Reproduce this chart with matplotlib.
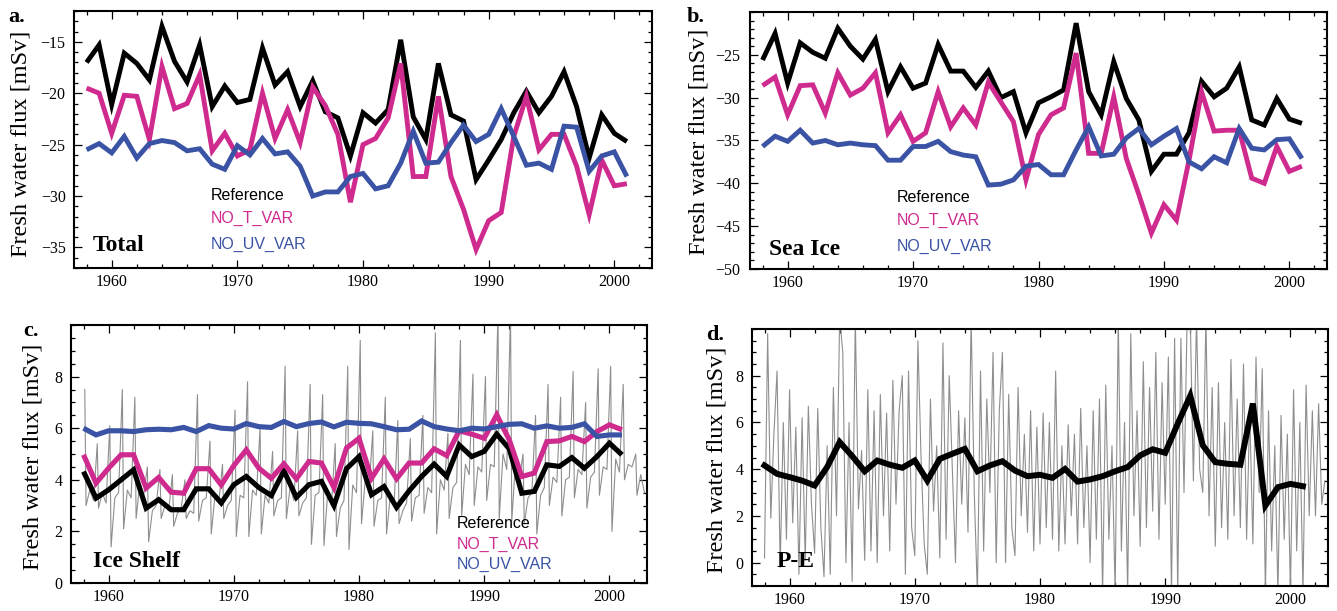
import numpy as np
import matplotlib
matplotlib.use("Agg")
import matplotlib.pyplot as plt
from matplotlib.ticker import MultipleLocator

# ---------------- data ----------------
years = np.arange(1958, 2002)

a_ref = [-17.0, -15.3, -21.1, -16.1, -17.1, -18.7, -13.5, -16.9, -18.9, -15.3,
         -21.3, -19.3, -20.9, -20.6, -15.6, -19.2, -17.9, -21.3, -18.8, -21.8,
         -22.4, -26.1, -21.9, -22.9, -21.6, -14.8, -22.3, -24.5, -17.1, -22.1,
         -22.7, -28.4, -26.5, -24.5, -21.9, -19.8, -21.9, -20.3, -17.9, -21.3,
         -26.3, -22.1, -23.9, -24.7]
a_not = [-19.5, -20.0, -23.9, -20.2, -20.3, -24.5, -17.4, -21.5, -21.0, -18.2,
         -25.6, -23.9, -26.1, -25.5, -20.0, -24.4, -21.6, -24.8, -19.4, -21.2,
         -24.0, -30.6, -25.0, -24.4, -22.4, -17.1, -28.1, -28.1, -20.3, -28.1,
         -31.3, -35.2, -32.4, -31.6, -24.2, -20.3, -25.5, -24.0, -24.0, -27.1,
         -31.8, -26.5, -29.0, -28.8]
a_nouv = [-25.5, -24.9, -25.8, -24.2, -26.3, -24.9, -24.6, -24.8, -25.6, -25.4,
          -26.9, -27.4, -25.1, -26.0, -24.4, -25.9, -25.7, -27.1, -30.0, -29.6,
          -29.6, -28.1, -27.8, -29.3, -29.0, -26.8, -23.7, -26.8, -26.7, -24.8,
          -23.1, -24.7, -24.0, -21.5, -24.2, -27.0, -26.8, -27.4, -23.2, -23.3,
          -27.6, -26.1, -25.7, -28.1]

b_ref = [-25.6, -22.5, -28.3, -23.6, -24.7, -25.4, -21.9, -24.0, -25.5, -23.2,
         -29.3, -26.4, -28.9, -28.3, -23.8, -26.9, -26.9, -28.8, -26.9, -30.0,
         -29.3, -34.1, -30.6, -29.9, -29.1, -21.3, -29.3, -32.0, -25.8, -30.1,
         -32.6, -38.6, -36.6, -36.6, -34.1, -28.1, -29.9, -28.9, -26.4, -32.6,
         -33.2, -30.1, -32.5, -33.0]
b_not = [-28.6, -27.6, -32.0, -28.6, -28.5, -31.8, -27.1, -29.7, -28.9, -27.1,
         -34.1, -32.0, -35.1, -34.1, -29.3, -33.4, -31.2, -33.2, -28.2, -30.5,
         -32.8, -39.6, -34.3, -32.0, -31.2, -24.8, -36.5, -36.5, -29.9, -37.1,
         -41.3, -45.8, -42.5, -44.3, -37.3, -29.3, -33.9, -33.8, -33.8, -39.4,
         -40.0, -35.7, -38.6, -38.0]
b_nouv = [-35.7, -34.5, -35.1, -33.8, -35.3, -35.0, -35.5, -35.3, -35.5, -35.6,
          -37.3, -37.3, -35.7, -35.7, -35.1, -36.3, -36.7, -36.9, -40.2, -40.1,
          -39.6, -38.0, -37.8, -39.0, -39.0, -36.1, -33.4, -36.8, -36.6, -34.7,
          -33.6, -35.5, -34.5, -33.6, -37.5, -38.3, -36.9, -37.6, -33.6, -35.9,
          -36.1, -34.9, -34.8, -37.1]

c_ref = [4.32, 3.29, 3.61, 4.0, 4.39, 2.9, 3.23, 2.84, 2.84, 3.65,
         3.65, 3.1, 3.81, 4.13, 3.7, 3.39, 4.35, 3.32, 3.81, 3.94,
         3.0, 4.43, 4.9, 3.42, 3.74, 2.93, 3.57, 4.13, 4.61, 4.13,
         5.35, 4.9, 5.1, 5.77, 5.2, 3.48, 3.55, 4.58, 4.52, 4.86,
         4.45, 4.9, 5.42, 4.97]
c_not = [4.97, 3.87, 4.45, 4.97, 4.97, 3.68, 4.09, 3.52, 3.48, 4.43,
         4.43, 3.8, 4.55, 5.16, 4.45, 4.06, 4.62, 4.04, 4.71, 4.65,
         3.7, 5.23, 5.61, 4.06, 4.81, 4.04, 4.65, 4.65, 5.2, 4.94,
         5.9, 5.77, 5.61, 6.52, 5.55, 4.13, 4.26, 5.48, 5.51, 5.68,
         5.48, 5.87, 6.13, 5.94]
c_nouv = [6.0, 5.74, 5.9, 5.9, 5.87, 5.94, 5.96, 5.94, 6.03, 5.87,
          6.1, 6.0, 5.97, 6.18, 6.06, 6.03, 6.26, 6.06, 6.18, 6.24,
          6.05, 6.23, 6.19, 6.17, 6.06, 5.94, 5.96, 6.28, 6.06, 5.97,
          5.9, 6.0, 5.97, 6.06, 6.15, 6.17, 6.0, 6.09, 6.0, 6.03,
          6.17, 5.68, 5.74, 5.74]

# monthly-like Ice Shelf reference (1958-2002): yearly spike, trough and plateau values
c_gray_years = np.arange(1958, 2003)
c_gray_peak = [7.5, 5.4, 6.1, 7.5, 7.2, 4.5, 4.4, 4.2, 4.0, 7.3,
               5.5, 4.6, 6.7, 7.8, 6.0, 5.1, 8.4, 5.9, 7.7, 7.3,
               5.4, 8.4, 9.4, 5.9, 7.2, 6.3, 5.6, 6.5, 9.7, 5.8,
               9.4, 8.1, 8.0, 10.5, 10.5, 5.0, 6.5, 7.7, 7.2, 8.2,
               7.0, 8.3, 8.4, 7.7, 5.0]
c_gray_low = [3.0, 2.9, 1.4, 2.1, 2.5, 1.6, 2.5, 2.2, 2.5, 2.4,
              1.9, 2.5, 1.8, 1.8, 1.9, 2.6, 2.5, 2.6, 1.5, 1.45,
              1.8, 1.3, 2.3, 2.2, 1.9, 2.3, 2.4, 2.7, 1.9, 2.5,
              2.6, 3.0, 3.2, 2.5, 2.4, 2.3, 1.9, 3.0, 2.6, 3.3,
              2.9, 3.4, 2.0, 4.0, 3.4]
c_gray_mid_a = [3.6, 3.5, 3.3, 3.6, 3.9, 2.8, 3.0, 2.7, 2.8, 3.2,
                3.4, 3.0, 3.4, 3.6, 3.4, 3.2, 3.7, 3.1, 3.4, 3.5,
                2.9, 3.8, 4.0, 3.2, 3.4, 2.8, 3.3, 3.7, 4.0, 3.7,
                4.6, 4.5, 4.6, 5.0, 4.7, 3.3, 3.4, 4.1, 4.0, 4.4,
                4.1, 4.5, 4.8, 4.6, 4.2]
c_gray_mid_b = [3.2, 3.1, 3.5, 3.3, 3.4, 3.0, 2.8, 2.9, 2.7, 3.3,
                3.1, 3.2, 3.3, 3.4, 3.1, 3.3, 3.2, 3.3, 3.5, 3.0,
                3.2, 3.5, 3.6, 3.3, 3.0, 3.1, 3.4, 3.5, 3.6, 3.9,
                4.2, 4.3, 4.5, 4.4, 4.0, 3.5, 3.7, 3.9, 4.1, 4.2,
                4.3, 4.4, 4.3, 4.5, 3.5]

d_ref = [4.16, 3.8, 3.66, 3.51, 3.3, 4.09, 5.16, 4.56, 3.91, 4.37,
         4.19, 4.06, 4.37, 3.51, 4.44, 4.66, 4.87, 3.91, 4.16, 4.34,
         3.94, 3.7, 3.76, 3.63, 4.01, 3.47, 3.56, 3.7, 3.91, 4.09,
         4.59, 4.85, 4.7, 5.95, 7.14, 5.02, 4.3, 4.23, 4.19, 6.81,
         2.44, 3.23, 3.37, 3.27]

# P-E sub-annual series, four readings per year from 1958 to 2002
d_gray = [0.2, 9.8, 1.9, 5.5,   8.2, -0.2, 6.0, 1.0,   7.4, 1.7, 5.8, -0.5,
          6.2, 0.1, 6.7, 2.5,   0.4, 6.6, 1.5, -0.6,   5.0, -0.5, 7.5, 2.0,
          10.5, 9.0, 0.0, 6.0,  -0.8, 10.5, 2.3, 4.8,  0.1, 7.4, 0.5, 6.5,
          0.0, 7.2, 2.0, 6.4,   0.5, 7.8, 2.5, 6.5,    8.0, -0.5, 8.2, 1.5,
          0.3, 9.5, 4.5, 0.8,   -0.5, 7.0, 2.2, 5.0,   0.2, 9.4, 1.0, 8.0,
          4.0, 0.0, 6.5, 2.5,   6.2, 1.3, 10.5, 3.0,   -1.3, 8.2, 0.5, 7.0,
          3.0, 9.0, 0.0, 6.5,   9.0, 0.0, 7.2, 1.5,    0.3, 7.5, 2.0, 5.5,
          1.3, 6.5, 0.5, 5.8,   0.8, 6.4, 1.5, 6.0,    1.0, 8.2, 0.5, 5.0,
          0.8, 5.9, 2.0, 5.5,   0.8, 6.6, 1.5, 5.0,    0.0, 6.5, 1.0, 7.0,
          -1.3, 7.6, 1.0, 5.0,  -1.3, 10.5, 0.5, 6.0,  -1.3, 9.8, 2.0, 6.5,
          0.7, 8.6, 1.5, 7.5,   2.2, 9.0, 1.0, 7.7,    2.5, 8.8, -1.3, 9.6,
          -1.3, 9.6, 3.0, 10.5, 10.5, 3.5, 10.5, 4.0,  3.0, 10.5, 2.0, 7.5,
          0.7, 7.7, 1.5, 6.0,   1.0, 8.7, 2.0, 7.0,    1.5, 8.5, 1.0, 6.5,
          0.8, 8.8, 3.0, 8.3,   -1.3, 6.5, 0.5, 5.0,   -1.3, 6.3, 1.0, 5.5,
          -1.3, 7.4, 0.5, 6.0,  -1.3, 7.6, 2.0, 6.5,   2.0, 6.8, 2.5, 3.5]

legend_labels = ["Reference", "NO_T_VAR", "NO_UV_VAR"]

# ---------------- style ----------------
BLACK = "#000000"
PINK = "#CF2A8E"
BLUE = "#3A53A4"
GRAY = "#8E8E8E"
SERIF = "Liberation Serif"
SANS = "Liberation Sans"

fig = plt.figure(figsize=(13.37, 6.11), dpi=100)
W, H = 1337.0, 611.0


def make_ax(l, t, r, b):
    return fig.add_axes([l / W, 1 - b / H, (r - l) / W, (b - t) / H])


def style_ax(ax, ylim, ymaj, ymin, ypad):
    ax.set_xlim(1957, 2003)
    ax.set_ylim(*ylim)
    ax.xaxis.set_major_locator(MultipleLocator(10))
    ax.xaxis.set_minor_locator(MultipleLocator(2))
    ax.yaxis.set_major_locator(MultipleLocator(ymaj))
    ax.yaxis.set_minor_locator(MultipleLocator(ymin))
    ax.tick_params(which="both", direction="in", top=True, right=True,
                   width=0.9, colors="black")
    ax.tick_params(which="major", length=5.5)
    ax.tick_params(which="minor", length=3.0)
    ax.tick_params(axis="x", which="major", pad=4, labelsize=11.5)
    ax.tick_params(axis="y", which="major", pad=ypad, labelsize=11.5)
    for lab in ax.get_xticklabels() + ax.get_yticklabels():
        lab.set_fontfamily(SERIF)
    for sp in ax.spines.values():
        sp.set_linewidth(1.5)


def lines3(ax, ref, nt, nuv, lw):
    kw = dict(solid_joinstyle="miter", solid_capstyle="butt")
    ax.plot(years, ref, color=BLACK, lw=lw, **kw)
    ax.plot(years, nt, color=PINK, lw=lw, **kw)
    ax.plot(years, nuv, color=BLUE, lw=lw, **kw)


def legend_text(ax, x, ys):
    for lab, col, y in zip(legend_labels, [BLACK, PINK, BLUE], ys):
        ax.text(x, y, lab, transform=ax.transAxes, color=col, fontsize=11.5,
                family=SANS, ha="left", va="center")


def name_text(ax, x, y, s):
    ax.text(x, y, s, transform=ax.transAxes, fontsize=17, family=SERIF,
            fontweight="bold", ha="left", va="center")


# ---- panel a ----
axa = make_ax(74, 11, 652, 268)
lines3(axa, a_ref, a_not, a_nouv, 3.5)
style_ax(axa, (-37, -12), 5, 1, 6)
axa.set_yticks([-15, -20, -25, -30, -35])
legend_text(axa, 0.2365, [0.284, 0.191, 0.093])
name_text(axa, 0.032, 0.086, "Total")

# ---- panel b ----
axb = make_ax(750, 12, 1327, 269)
lines3(axb, b_ref, b_not, b_nouv, 3.5)
style_ax(axb, (-50, -20), 5, 1, 7)
axb.set_yticks([-25, -30, -35, -40, -45, -50])
legend_text(axb, 0.254, [0.277, 0.188, 0.087])
name_text(axb, 0.033, 0.077, "Sea Ice")

# ---- panel c ----
axc = make_ax(71, 325, 647, 583)
ct, cv = [], []
for y, pk, lo, ma, mb in zip(c_gray_years, c_gray_peak, c_gray_low,
                              c_gray_mid_a, c_gray_mid_b):
    ct += [y + 0.1, y + 0.2, y + 0.5, y + 0.8]
    cv += [pk, lo, ma, mb]
axc.plot(ct, cv, color=GRAY, lw=0.8)
lines3(axc, c_ref, c_not, c_nouv, 3.7)
style_ax(axc, (0, 10), 2, 0.5, 6)
axc.set_yticks([0, 2, 4, 6, 8])
legend_text(axc, 0.6696, [0.231, 0.150, 0.0725])
name_text(axc, 0.0377, 0.085, "Ice Shelf")

# ---- panel d ----
axd = make_ax(752, 329, 1328, 586)
dt = 1958 + np.arange(len(d_gray)) * 0.25
axd.plot(dt, d_gray, color=GRAY, lw=0.8)
axd.plot(years, d_ref, color=BLACK, lw=4.3, solid_joinstyle="miter")
style_ax(axd, (-1, 10), 2, 0.5, 6)
axd.set_yticks([0, 2, 4, 6, 8])
name_text(axd, 0.043, 0.095, "P-E")

# ---- y labels and panel letters ----
for (x, y) in [(21, 143.5), (699, 141.5), (32.7, 456.5), (716.7, 460)]:
    fig.text(x / W, 1 - y / H, "Fresh water flux [mSv]", rotation=90,
             ha="center", va="center", fontsize=17.5, family=SERIF)
for (x, y, s) in [(8, 17, "a."), (687, 16.5, "b."), (23, 331, "c."), (706, 335, "d.")]:
    fig.text(x / W, 1 - y / H, s, ha="left", va="center", fontsize=16,
             family=SERIF, fontweight="bold")

fig.savefig("out.png", dpi=100)
